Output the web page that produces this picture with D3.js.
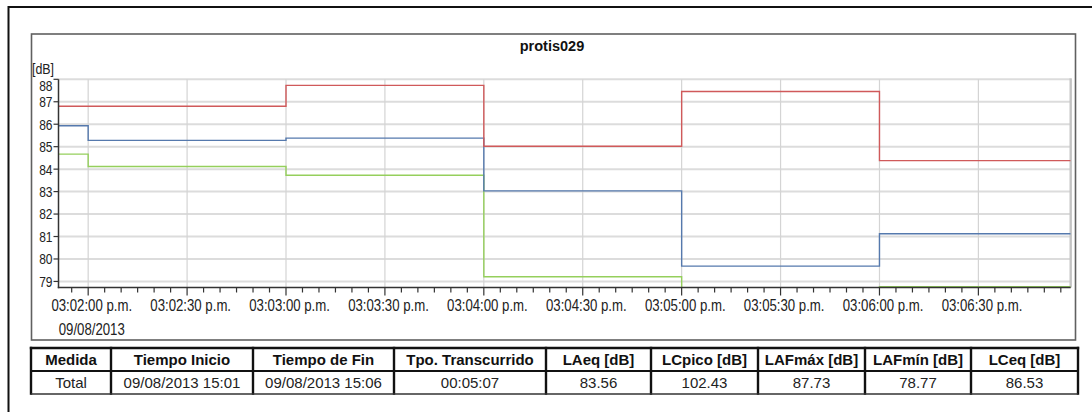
<!DOCTYPE html>
<html>
<head>
<meta charset="utf-8">
<script src="https://cdn.jsdelivr.net/npm/d3@7"></script>
<style>
  html, body { margin: 0; padding: 0; background: #fff; }
  svg { display: block; }
  .narrow { font-family: "Liberation Sans", Arial, sans-serif; }
</style>
</head>
<body>
<svg id="chart" width="1092" height="412"></svg>
<script>
// ---------- data ----------
const chartTitle = "protis029";
const yUnit = "[dB]";
const segmentStarts = ["2013-08-09T15:01:51", "2013-08-09T15:02:00", "2013-08-09T15:03:00",
                       "2013-08-09T15:04:00", "2013-08-09T15:05:00", "2013-08-09T15:06:00"];
const segmentEnd = "2013-08-09T15:06:58";
const seriesMax = [86.80, 86.80, 87.73, 85.02, 87.46, 84.38];   // red
const seriesEq  = [85.93, 85.28, 85.38, 83.03, 79.68, 81.12];   // blue
const seriesMin = [84.67, 84.12, 83.73, 79.21, 78.72, 78.77];   // green
const yTicks = [79, 80, 81, 82, 83, 84, 85, 86, 87, 88];
const xTickTimes = ["2013-08-09T15:02:00", "2013-08-09T15:02:30", "2013-08-09T15:03:00", "2013-08-09T15:03:30",
                    "2013-08-09T15:04:00", "2013-08-09T15:04:30", "2013-08-09T15:05:00", "2013-08-09T15:05:30",
                    "2013-08-09T15:06:00", "2013-08-09T15:06:30"];
const xTickLabels = ["03:02:00 p.m.", "03:02:30 p.m.", "03:03:00 p.m.", "03:03:30 p.m.", "03:04:00 p.m.",
                     "03:04:30 p.m.", "03:05:00 p.m.", "03:05:30 p.m.", "03:06:00 p.m.", "03:06:30 p.m."];
const dateLabel = "09/08/2013";
const tableHeaders = ["Medida", "Tiempo Inicio", "Tiempo de Fin", "Tpo. Transcurrido", "LAeq [dB]",
                      "LCpico [dB]", "LAFmáx [dB]", "LAFmín [dB]", "LCeq [dB]"];
const tableRow = ["Total", "09/08/2013 15:01", "09/08/2013 15:06", "00:05:07", "83.56",
                  "102.43", "87.73", "78.77", "86.53"];

// ---------- layout ----------
const svg = d3.select("#chart");
const parse = d3.isoParse;
const plot = { left: 58.5, right: 1070.7, top: 79.3, bottom: 287.5 };
const SX = 0.8; // horizontal compression for the narrow axis font

const x = d3.scaleTime()
  .domain([parse(segmentStarts[0]), parse(segmentEnd)])
  .range([plot.left, plot.right]);
const y = d3.scaleLinear().domain([78.73, 88]).range([plot.bottom, plot.top]);

// outer frame
svg.append("line").attr("x1", 8).attr("x2", 1092).attr("y1", 7).attr("y2", 7)
  .attr("stroke", "#111").attr("stroke-width", 2);
svg.append("line").attr("x1", 8.5).attr("x2", 8.5).attr("y1", 6).attr("y2", 412)
  .attr("stroke", "#111").attr("stroke-width", 2);

// chart box
svg.append("rect").attr("x", 31.5).attr("y", 34).attr("width", 1044).attr("height", 306)
  .attr("fill", "none").attr("stroke", "#606060").attr("stroke-width", 1.6);

// title
svg.append("text").attr("x", 552).attr("y", 51)
  .attr("text-anchor", "middle")
  .attr("font-family", "Liberation Sans, Arial, sans-serif")
  .attr("font-weight", "bold").attr("font-size", 14.5).attr("fill", "#111")
  .text(chartTitle);

// horizontal grid
svg.append("g").selectAll("line").data(yTicks).join("line")
  .attr("x1", plot.left).attr("x2", plot.right)
  .attr("y1", d => y(d)).attr("y2", d => y(d))
  .attr("stroke", "#dcdcdc").attr("stroke-width", 2);

// vertical grid
svg.append("g").selectAll("line").data(xTickTimes).join("line")
  .attr("x1", d => x(parse(d))).attr("x2", d => x(parse(d)))
  .attr("y1", plot.top).attr("y2", plot.bottom)
  .attr("stroke", "#d4d4d4").attr("stroke-width", 1.2);

// right edge of plot
svg.append("line").attr("x1", plot.right).attr("x2", plot.right)
  .attr("y1", plot.top - 1).attr("y2", plot.bottom)
  .attr("stroke", "#c4c4c4").attr("stroke-width", 2.4);

// clip
svg.append("clipPath").attr("id", "plotclip").append("rect")
  .attr("x", plot.left).attr("y", plot.top - 2)
  .attr("width", plot.right - plot.left).attr("height", plot.bottom - plot.top + 2);

const times = segmentStarts.map(parse).concat([parse(segmentEnd)]);
const line = d3.line()
  .x(d => x(d.t)).y(d => y(d.v))
  .curve(d3.curveStepAfter);
function pts(vals) {
  const v = vals.concat([vals[vals.length - 1]]);
  return times.map((t, i) => ({ t, v: v[i] }));
}
const series = [
  { vals: seriesMin, color: "#95cf5c" },
  { vals: seriesEq,  color: "#5579ad" },
  { vals: seriesMax, color: "#d0595a" }
];
const lg = svg.append("g").attr("clip-path", "url(#plotclip)");
series.forEach(s => {
  lg.append("path").attr("d", line(pts(s.vals)))
    .attr("fill", "none").attr("stroke", s.color).attr("stroke-width", 1.4);
});

// y axis
const yAxis = svg.append("g");
yAxis.append("line").attr("x1", plot.left).attr("x2", plot.left)
  .attr("y1", plot.top).attr("y2", plot.bottom + 0.7)
  .attr("stroke", "#333").attr("stroke-width", 1.5);
yAxis.selectAll("line.tick").data(yTicks).join("line").attr("class", "tick")
  .attr("x1", plot.left - 5).attr("x2", plot.left)
  .attr("y1", d => y(d)).attr("y2", d => y(d))
  .attr("stroke", "#333").attr("stroke-width", 1.2);
yAxis.selectAll("text").data(yTicks).join("text")
  .attr("class", "narrow")
  .attr("transform", d => `translate(${plot.left - 6},${Math.max(y(d), plot.top + 5.8)}) scale(${SX},1)`)
  .attr("dy", "0.36em")
  .attr("text-anchor", "end").attr("font-size", 15).attr("fill", "#222")
  .text(d => d);
svg.append("text").attr("class", "narrow")
  .attr("transform", `translate(32,73.5) scale(${SX},1)`)
  .attr("font-size", 15.5).attr("fill", "#222")
  .text(yUnit);

// x axis
const xAxis = svg.append("g");
xAxis.append("line").attr("x1", plot.left - 0.7).attr("x2", plot.right)
  .attr("y1", plot.bottom).attr("y2", plot.bottom)
  .attr("stroke", "#333").attr("stroke-width", 1.5);
const minorTicks = d3.timeSecond.every(5).range(parse(segmentStarts[0]), parse(segmentEnd));
xAxis.selectAll("line.minor").data(minorTicks).join("line").attr("class", "minor")
  .attr("x1", d => x(d)).attr("x2", d => x(d))
  .attr("y1", plot.bottom).attr("y2", d => (d.getSeconds() % 30 === 0) ? plot.bottom + 8 : plot.bottom + 5)
  .attr("stroke", "#333").attr("stroke-width", 1.2);
xAxis.selectAll("text").data(xTickTimes).join("text")
  .attr("class", "narrow")
  .attr("transform", d => `translate(${x(parse(d)) + 3.6},311) scale(${SX},1)`)
  .attr("text-anchor", "middle").attr("font-size", 16.5).attr("fill", "#222")
  .text((d, i) => xTickLabels[i]);
svg.append("text").attr("class", "narrow")
  .attr("transform", `translate(${x(parse(xTickTimes[0])) + 3.6},335) scale(${SX},1)`)
  .attr("text-anchor", "middle").attr("font-size", 16.5).attr("fill", "#222")
  .text(dateLabel);

// ---------- table ----------
const colEdges = [31, 111, 253, 394, 546, 651, 758, 865, 971, 1078];
const rowEdges = [348, 371, 394];
const tg = svg.append("g");
tg.selectAll("text.h").data(tableHeaders).join("text").attr("class", "h")
  .attr("x", (d, i) => (colEdges[i] + colEdges[i + 1]) / 2)
  .attr("y", (rowEdges[0] + rowEdges[1]) / 2).attr("dy", "0.36em")
  .attr("text-anchor", "middle")
  .attr("font-family", "Liberation Sans, Arial, sans-serif")
  .attr("font-weight", "bold").attr("font-size", 15).attr("fill", "#111")
  .text(d => d);
tg.selectAll("text.r").data(tableRow).join("text").attr("class", "r")
  .attr("x", (d, i) => (colEdges[i] + colEdges[i + 1]) / 2)
  .attr("y", (rowEdges[1] + rowEdges[2]) / 2).attr("dy", "0.36em")
  .attr("text-anchor", "middle")
  .attr("font-family", "Liberation Sans, Arial, sans-serif")
  .attr("font-size", 15).attr("fill", "#222")
  .text(d => d);
// borders
tg.selectAll("line.v").data(colEdges).join("line").attr("class", "v")
  .attr("x1", d => d).attr("x2", d => d)
  .attr("y1", rowEdges[0] - 1.2).attr("y2", rowEdges[2] + 0.8)
  .attr("stroke", "#111").attr("stroke-width", 2.4);
tg.append("line").attr("x1", colEdges[0] - 1.2).attr("x2", colEdges[colEdges.length - 1] + 1.2)
  .attr("y1", rowEdges[0]).attr("y2", rowEdges[0]).attr("stroke", "#111").attr("stroke-width", 2.6);
tg.append("line").attr("x1", colEdges[0]).attr("x2", colEdges[colEdges.length - 1])
  .attr("y1", rowEdges[1]).attr("y2", rowEdges[1]).attr("stroke", "#111").attr("stroke-width", 2.2);
tg.append("line").attr("x1", colEdges[0]).attr("x2", colEdges[colEdges.length - 1])
  .attr("y1", rowEdges[2]).attr("y2", rowEdges[2]).attr("stroke", "#333").attr("stroke-width", 1.4);
</script>
</body>
</html>
